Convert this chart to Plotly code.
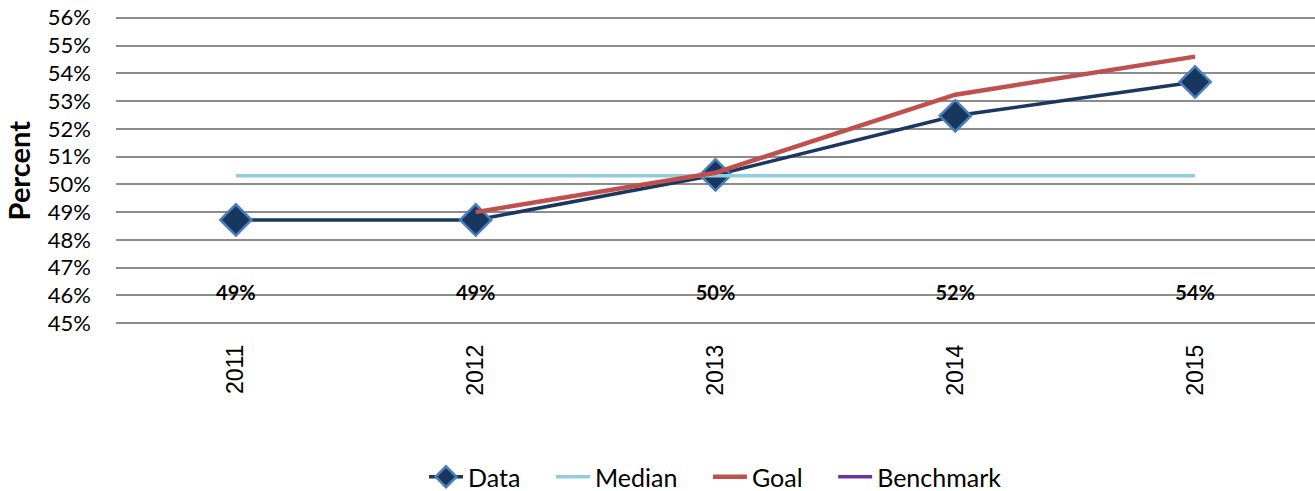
import plotly.graph_objects as go

years = ["2011", "2012", "2013", "2014", "2015"]
data_vals = [48.72, 48.72, 50.34, 52.47, 53.69]
median_vals = [50.31, 50.31, 50.31, 50.31, 50.31]
goal_vals = [None, 49.0, 50.42, 53.23, 54.6]
benchmark_vals = [None, None, None, None, None]
label_row = [46, 46, 46, 46, 46]
y_ticks = list(range(45, 57))

data_labels = [f"{round(v):.0f}%" for v in data_vals]
pad = "\u00a0" * 4

fig = go.Figure()
fig.add_trace(go.Scatter(
    x=years, y=data_vals, name="Data" + pad, mode="lines+markers",
    line=dict(color="#1B365F", width=3.5),
    marker=dict(symbol="diamond", size=24, color="#17375E",
                line=dict(color="#4A7EBB", width=2.5)),
))
fig.add_trace(go.Scatter(
    x=years, y=median_vals, name="Median" + pad, mode="lines",
    line=dict(color="#93CDDD", width=3.5),
))
fig.add_trace(go.Scatter(
    x=years, y=goal_vals, name="Goal" + pad, mode="lines",
    line=dict(color="#C0504D", width=4.5),
))
fig.add_trace(go.Scatter(
    x=years, y=benchmark_vals, name="Benchmark", mode="lines",
    line=dict(color="#7030A0", width=3.5),
))
fig.add_trace(go.Scatter(
    x=years, y=label_row, mode="text", text=data_labels, showlegend=False,
    textposition="middle center",
    textfont=dict(family="Lato", size=20, color="#000000", weight="bold"),
    hoverinfo="skip",
))

fig.update_layout(
    width=1315, height=491,
    margin=dict(l=116, r=0, t=15, b=165),
    paper_bgcolor="white", plot_bgcolor="white",
    showlegend=True,
    legend=dict(orientation="h", x=0.5, xanchor="center",
                yref="container", y=0.0285, yanchor="middle",
                font=dict(family="Lato", size=25, color="#000000"),
                itemwidth=34, tracegroupgap=0),
    xaxis=dict(
        type="category", range=[-0.5, 4.5], showgrid=False, zeroline=False,
        showline=False, tickangle=-90, ticks="", automargin=False,
        tickfont=dict(family="Liberation Sans", size=23, color="#000000"),
        ticklabelstandoff=13,
    ),
    yaxis=dict(
        range=[44.9, 56.1], tickvals=y_ticks, ticktext=[f"{t}%" for t in y_ticks],
        showgrid=True, gridcolor="#8C8C8C", gridwidth=1.8, zeroline=False,
        showline=False, ticks="", automargin=False,
        tickfont=dict(family="Lato", size=22, color="#000000"),
        ticklabelstandoff=24,
    ),
    annotations=[dict(
        text="<b>Percent</b>", textangle=-90, xref="paper", yref="paper",
        x=-0.081, y=0.5, xanchor="center", yanchor="middle", showarrow=False,
        font=dict(family="Lato", size=29, color="#000000"),
    )],
)

fig.write_html("out.html", config={"displayModeBar": False},
               post_script="document.body.style.margin='0';")
